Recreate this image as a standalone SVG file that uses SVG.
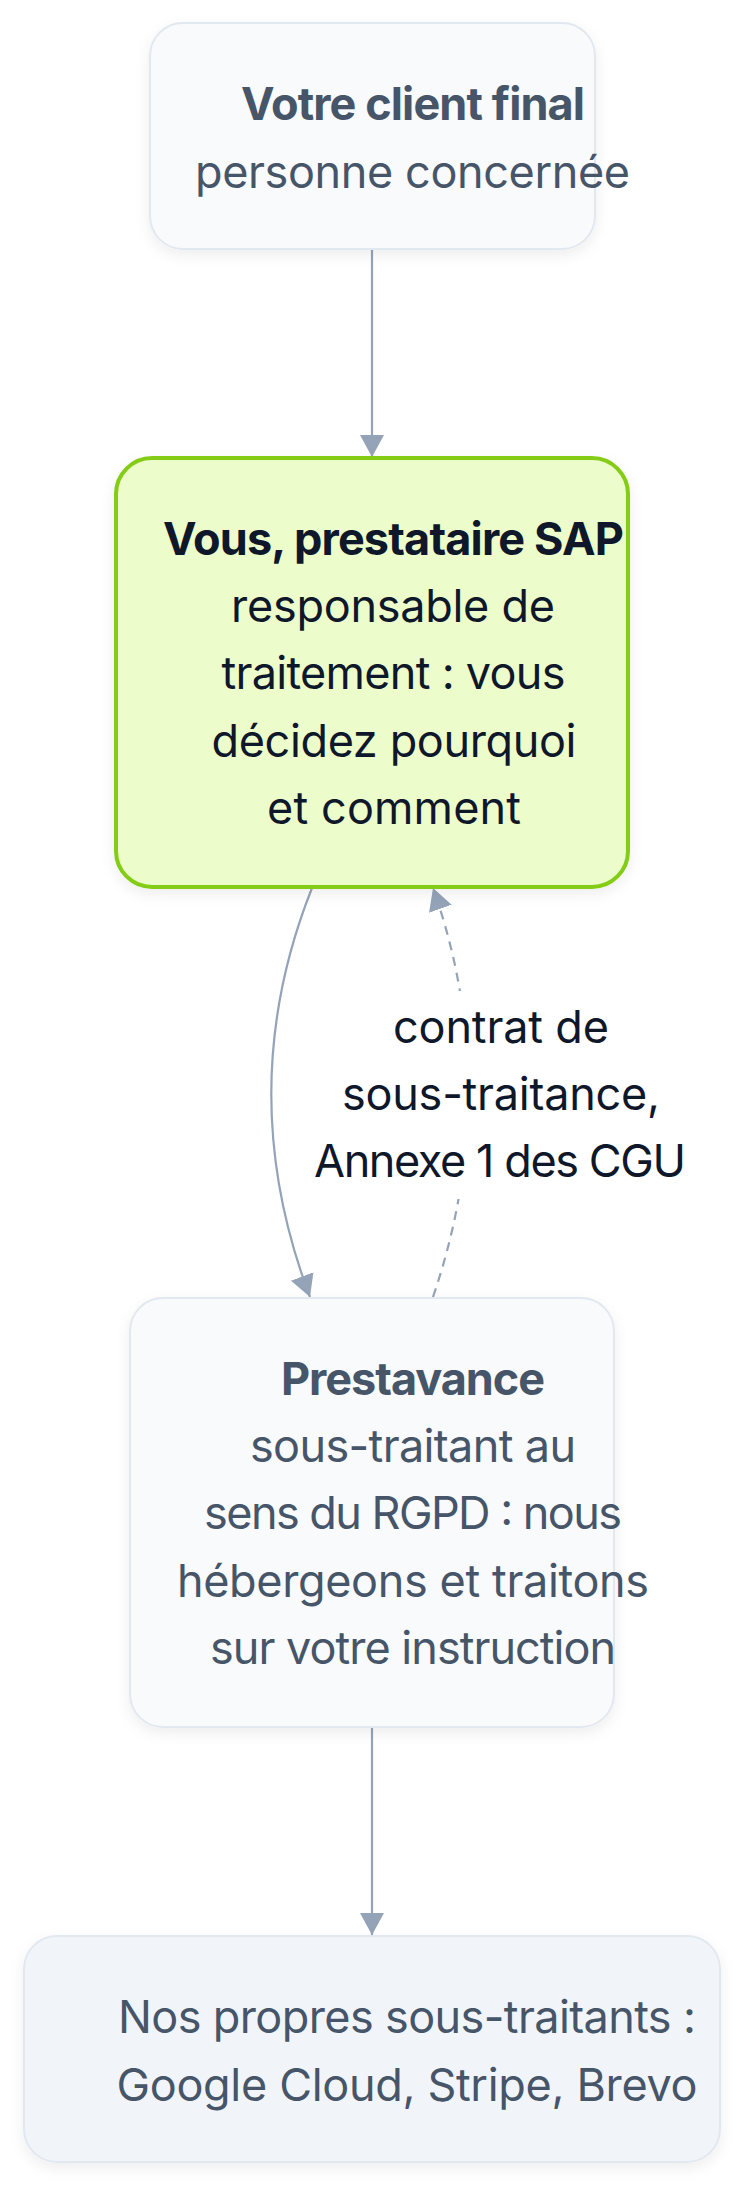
<svg xmlns="http://www.w3.org/2000/svg" width="747" height="2187" viewBox="0 0 747 2187">
  <defs>
    <style>
      .t { font-family: Inter, "Noto Sans", "DejaVu Sans", sans-serif; font-size: 45px; text-anchor: middle; }
      .b { font-weight: 700; }
      .grey { fill: #475569; }
      .dark { fill: #0f172a; }
      .node { fill: #f8fafc; stroke: #e2e8f0; stroke-width: 2; }
      .edge { fill: none; stroke: #94a3b8; stroke-width: 2.2; }
      .dash { stroke-dasharray: 9 7; }
    </style>
    <filter id="shadow" x="-10%" y="-10%" width="120%" height="130%">
      <feDropShadow dx="0" dy="5" stdDeviation="7" flood-color="#0f172a" flood-opacity="0.07"/>
    </filter>
    <marker id="arrow" markerUnits="userSpaceOnUse" markerWidth="24" markerHeight="24" refX="22" refY="12" orient="auto">
      <path d="M0,0 L22,12 L0,24 Z" fill="#94a3b8"/>
    </marker>
  </defs>
  <rect width="747" height="2187" fill="#ffffff"/>

  <g id="connectors">
    <path class="edge" d="M372,249 L372,457" marker-end="url(#arrow)"/>
    <path class="edge" d="M312,888 C258,1024 258,1160 310,1297" marker-end="url(#arrow)"/>
    <path class="edge dash" d="M433,1297 C480,1160 480,1020 433,888" marker-end="url(#arrow)"/>
    <path class="edge" d="M372,1727 L372,1935" marker-end="url(#arrow)"/>
    <g id="edge-label">
      <rect x="312" y="991" width="376" height="208" fill="#ffffff"/>
      <text class="t dark" x="501" y="1043" textLength="216" lengthAdjust="spacing">contrat de</text>
      <text class="t dark" x="501" y="1110" textLength="318" lengthAdjust="spacing">sous-traitance,</text>
      <text class="t dark" x="500" y="1177" textLength="372" lengthAdjust="spacing">Annexe 1 des CGU</text>
    </g>
  </g>

  <g id="node-client">
    <rect class="node" x="150" y="23" width="445" height="226" rx="33" filter="url(#shadow)"/>
    <text class="t b grey" x="413" y="120" textLength="344" lengthAdjust="spacing">Votre client final</text>
    <text class="t grey" x="412.5" y="188" textLength="435" lengthAdjust="spacing">personne concernée</text>
  </g>

  <g id="node-vous">
    <rect x="116" y="458" width="512" height="429" rx="36" fill="#ecfccb" stroke="#84cc16" stroke-width="4" filter="url(#shadow)"/>
    <text class="t b dark" x="393.5" y="555" textLength="461" lengthAdjust="spacing">Vous, prestataire SAP</text>
    <text class="t dark" x="393" y="622" textLength="324" lengthAdjust="spacing">responsable de</text>
    <text class="t dark" x="393.5" y="689" textLength="344" lengthAdjust="spacing">traitement : vous</text>
    <text class="t dark" x="394" y="757" textLength="365" lengthAdjust="spacing">décidez pourquoi</text>
    <text class="t dark" x="394" y="824" textLength="254" lengthAdjust="spacing">et comment</text>
  </g>

  <g id="node-prestavance">
    <rect class="node" x="130" y="1298" width="484" height="429" rx="33" filter="url(#shadow)"/>
    <text class="t b grey" x="413" y="1395" textLength="264" lengthAdjust="spacing">Prestavance</text>
    <text class="t grey" x="413" y="1462" textLength="326" lengthAdjust="spacing">sous-traitant au</text>
    <text class="t grey" x="413" y="1529" textLength="418" lengthAdjust="spacing">sens du RGPD : nous</text>
    <text class="t grey" x="413" y="1597" textLength="472" lengthAdjust="spacing">hébergeons et traitons</text>
    <text class="t grey" x="413" y="1664" textLength="406" lengthAdjust="spacing">sur votre instruction</text>
  </g>

  <g id="node-soustraitants">
    <rect x="24" y="1936" width="696" height="226" rx="33" fill="#f1f5f9" stroke="#e2e8f0" stroke-width="2" filter="url(#shadow)"/>
    <text class="t grey" x="407" y="2033" textLength="578" lengthAdjust="spacing">Nos propres sous-traitants :</text>
    <text class="t grey" x="407" y="2101" textLength="581" lengthAdjust="spacing">Google Cloud, Stripe, Brevo</text>
  </g>
</svg>
